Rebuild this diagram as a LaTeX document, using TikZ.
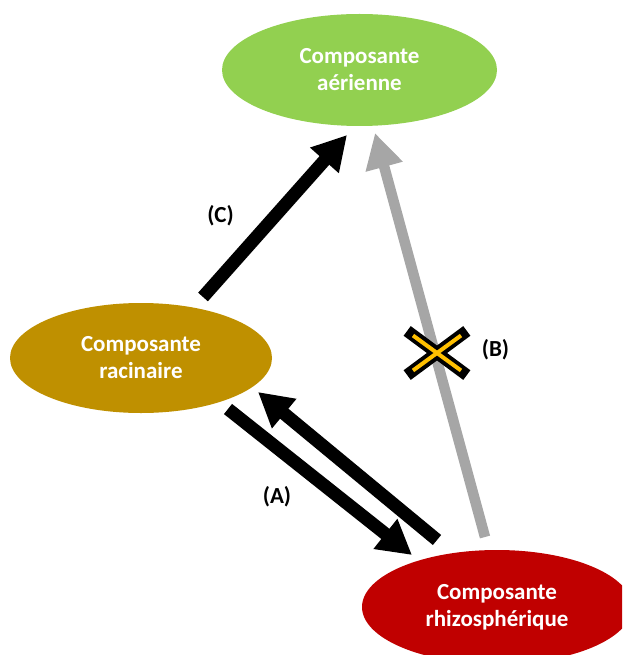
\documentclass[tikz,border=0pt]{standalone}
\usepackage{fontspec}
\setmainfont{Carlito}
\usetikzlibrary{shapes.geometric,arrows.meta,calc}
\definecolor{leafgreen}{HTML}{92D050}
\definecolor{rootgold}{HTML}{BF9000}
\definecolor{rhizored}{HTML}{C00000}
\definecolor{crossorange}{HTML}{FFC000}
\definecolor{bgray}{HTML}{A6A6A6}
\begin{document}
\begin{tikzpicture}[x=1pt,y=-1pt,
  comp/.style={ellipse, draw=none, text=white, font=\bfseries\fontsize{23}{27}\selectfont, align=center, inner sep=0pt},
  bigarrow/.style={line width=13pt, -{Triangle[length=34pt,width=36pt]}},
  grayarrow/.style={bgray, line width=10.5pt, -{Triangle[length=35pt,width=36pt]}},
  lbl/.style={font=\bfseries\fontsize{23}{27}\selectfont, inner sep=0pt}]
\useasboundingbox (0,0) rectangle (622,655);
\clip (0,0) rectangle (622,655);
\node[comp, fill=leafgreen, minimum width=275pt, minimum height=112pt] (air) at (359.5,70) {Composante\\aérienne};
\node[comp, fill=rootgold, minimum width=262pt, minimum height=110pt] (root) at (141,358) {Composante\\racinaire};
\node[comp, fill=rhizored, minimum width=270pt, minimum height=114pt] (rhizo) at (497,607) {Composante\\rhizosphérique};
% (C)
\draw[bigarrow] ($(root)+(62,-61)$) -- ($(air)+(-12.5,65)$);
% (B)
\draw[grayarrow] ($(rhizo)+(-12,-70)$) -- ($(air)+(15.5,63)$);
% (A)
\draw[bigarrow] ($(root)+(87,51)$) -- ($(rhizo)+(-85,-52)$);
\draw[bigarrow] ($(rhizo)+(-60,-67)$) -- ($(root)+(117,34)$);
% cross
\coordinate (xc) at (437,353);
\draw[line width=12pt, line cap=rect] ($(xc)+(-25,-18.5)$) -- ($(xc)+(25,18.5)$);
\draw[line width=12pt, line cap=rect] ($(xc)+(-25,18.5)$) -- ($(xc)+(25,-18.5)$);
\draw[crossorange, line width=4pt] ($(xc)+(-24,-17.5)$) -- ($(xc)+(24,17.5)$);
\draw[crossorange, line width=4pt] ($(xc)+(-24,17.5)$) -- ($(xc)+(24,-17.5)$);
% labels
\node[lbl] (lc) at (220.5,216) {(C)};
\node[lbl] (lb) at (495.5,350) {(B)};
\node[lbl] (la) at (277,497) {(A)};
\end{tikzpicture}
\end{document}
